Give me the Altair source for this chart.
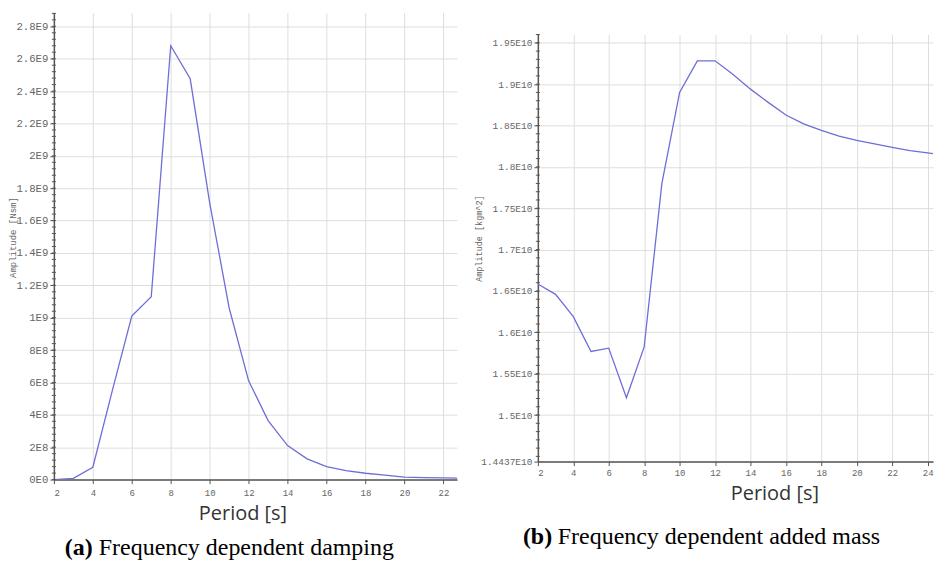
import json
import altair as alt
import pandas as pd

# ---------------- data ----------------
period_a = [2, 3, 4, 5, 6, 7, 8, 9, 10, 11, 12, 13, 14, 15, 16, 17, 18, 19, 20, 21, 22, 23]
damping = [0.0, 0.008e9, 0.076e9, 0.55e9, 1.01e9, 1.13e9, 2.68e9, 2.476e9, 1.71e9, 1.06e9,
           0.61e9, 0.364e9, 0.21e9, 0.128e9, 0.08e9, 0.055e9, 0.039e9, 0.028e9, 0.015e9,
           0.012e9, 0.010e9, 0.009e9]

period_b = [2, 3, 4, 5, 6, 7, 8, 9, 10, 11, 12, 13, 14, 15, 16, 17, 18, 19, 20, 21, 22, 23, 24, 25]
added_mass = [1.6584e10, 1.6459e10, 1.619e10, 1.5769e10, 1.5809e10, 1.5208e10, 1.5823e10,
              1.78e10, 1.89e10, 1.9282e10, 1.9282e10, 1.912e10, 1.894e10, 1.878e10, 1.8627e10,
              1.852e10, 1.8442e10, 1.8373e10, 1.8321e10, 1.8277e10, 1.8237e10, 1.8196e10,
              1.8169e10, 1.814e10]

a_x_ticks = [2, 4, 6, 8, 10, 12, 14, 16, 18, 20, 22]
a_y_ticks = [0.0, 2e8, 4e8, 6e8, 8e8, 1e9, 1.2e9, 1.4e9, 1.6e9, 1.8e9, 2e9, 2.2e9, 2.4e9, 2.6e9, 2.8e9]
a_y_labels = ["0E0", "2E8", "4E8", "6E8", "8E8", "1E9", "1.2E9", "1.4E9", "1.6E9", "1.8E9",
              "2E9", "2.2E9", "2.4E9", "2.6E9", "2.8E9"]
a_minor = [i * 0.04e9 for i in range(73)]

b_x_ticks = [2, 4, 6, 8, 10, 12, 14, 16, 18, 20, 22, 24]
b_y_ticks = [1.4437e10, 1.5e10, 1.55e10, 1.6e10, 1.65e10, 1.7e10, 1.75e10, 1.8e10, 1.85e10, 1.9e10, 1.95e10]
b_y_labels = ["1.4437E10", "1.5E10", "1.55E10", "1.6E10", "1.65E10", "1.7E10", "1.75E10",
              "1.8E10", "1.85E10", "1.9E10", "1.95E10"]
b_minor = [1.45e10 + i * 0.01e10 for i in range(52)]

caption_a = ["(a)", "Frequency dependent damping"]
caption_b = ["(b)", "Frequency dependent added mass"]
x_title = "Period [s]"
y_title_a = "Amplitude [Nsm]"
y_title_b = "Amplitude [kgm^2]"

# ---------------- styles ----------------
LINE = "#6e6ed6"
AX = "#555555"
GRID = "#dedede"
MONO = "Liberation Mono"


def label_expr(ticks, labels):
    return f"{json.dumps(labels)}[indexof({json.dumps(ticks)}, datum.value)]"


def x_axis(values, title_x, title_y, label_pad):
    return alt.Axis(values=values, tickCount=40, format="d", grid=True, gridColor=GRID, gridWidth=1,
                    domainColor=AX, domainWidth=1.5, tickColor=AX, tickSize=4,
                    labelFont=MONO, labelFontSize=9, labelColor="#666666", labelPadding=label_pad,
                    labelOverlap=False,
                    title=x_title, titleFont="Open Sans", titleFontSize=20, titleFontWeight="normal",
                    titleColor="#333333", titleX=title_x, titleY=title_y, titleBaseline="alphabetic")


def y_axis(values, labels, title, title_x, title_y, label_size, title_size):
    return alt.Axis(values=values, tickCount=40, labelExpr=label_expr(values, labels), grid=True,
                    gridColor=GRID, gridWidth=1, domainColor=AX, domainWidth=1.5, tickColor=AX,
                    tickSize=4, labelFont=MONO, labelFontSize=label_size, labelColor="#666666",
                    labelPadding=2, labelOverlap=False,
                    title=title, titleFont=MONO, titleFontSize=title_size, titleFontWeight="normal",
                    titleColor="#666666", titleX=title_x, titleY=title_y, titleBaseline="middle",
                    titleAngle=270)


def caption_layers(cap, x0, gap, y):
    bold = alt.Chart(pd.DataFrame({"t": [cap[0]]})).mark_text(
        font="Liberation Serif", fontSize=24, fontWeight="bold", align="left",
        baseline="alphabetic", color="black").encode(text="t:N", x=alt.value(x0), y=alt.value(y))
    rest = alt.Chart(pd.DataFrame({"t": [cap[1]]})).mark_text(
        font="Liberation Serif", fontSize=24, align="left",
        baseline="alphabetic", color="black").encode(text="t:N", x=alt.value(x0 + gap), y=alt.value(y))
    return bold, rest


# ---------------- panel (a) ----------------
df_a = pd.DataFrame({"period": period_a, "amp": damping})
xs_a = alt.Scale(domain=[2, 22.7], nice=False, zero=False)
ys_a = alt.Scale(domain=[0, 2.885e9], nice=False, zero=False)

line_a = alt.Chart(df_a).mark_line(color=LINE, strokeWidth=1.3, clip=True).encode(
    x=alt.X("period:Q", scale=xs_a, axis=x_axis(a_x_ticks, 189, 40, 5)),
    y=alt.Y("amp:Q", scale=ys_a, axis=y_axis(a_y_ticks, a_y_labels, y_title_a, -41, 225, 10.7, 9)),
)
minor_a = alt.Chart(pd.DataFrame({"amp": a_minor})).mark_rule(color=AX, strokeWidth=1).encode(
    y=alt.Y("amp:Q", scale=ys_a, title=y_title_a), x=alt.value(-2), x2=alt.value(2))
cap_a1, cap_a2 = caption_layers(caption_a, 11, 34, 544)
left = alt.layer(line_a, minor_a, cap_a1, cap_a2).properties(width=404, height=468)

# ---------------- panel (b) ----------------
df_b = pd.DataFrame({"period": period_b, "amp": added_mass})
xs_b = alt.Scale(domain=[2, 24.3], nice=False, zero=False)
ys_b = alt.Scale(domain=[1.4437e10, 1.96e10], nice=False, zero=False)

line_b = alt.Chart(df_b).mark_line(color=LINE, strokeWidth=1.3, clip=True).encode(
    x=alt.X("period:Q", scale=xs_b, axis=x_axis(b_x_ticks, 237, 38, 3)),
    y=alt.Y("amp:Q", scale=ys_b, axis=y_axis(b_y_ticks, b_y_labels, y_title_b, -59, 204, 9.5, 8.5)),
)
minor_b = alt.Chart(pd.DataFrame({"amp": b_minor})).mark_rule(color=AX, strokeWidth=1).encode(
    y=alt.Y("amp:Q", scale=ys_b, title=y_title_b), x=alt.value(-2), x2=alt.value(2))
cap_b1, cap_b2 = caption_layers(caption_b, -15, 35, 511)
right_plot = alt.layer(line_b, minor_b, cap_b1, cap_b2).properties(width=396, height=428)

spacer = alt.Chart(pd.DataFrame({"t": [""]})).mark_text().encode(text="t:N").properties(
    width=396, height=21)
right = alt.vconcat(spacer, right_plot, spacing=0)

chart = alt.hconcat(left, right, spacing=16).properties(
    padding={"left": 8, "top": 11, "right": 0, "bottom": 0},
    background="white",
).configure_view(stroke="transparent")

chart.save("out.html", embed_options={"renderer": "svg", "actions": False})
